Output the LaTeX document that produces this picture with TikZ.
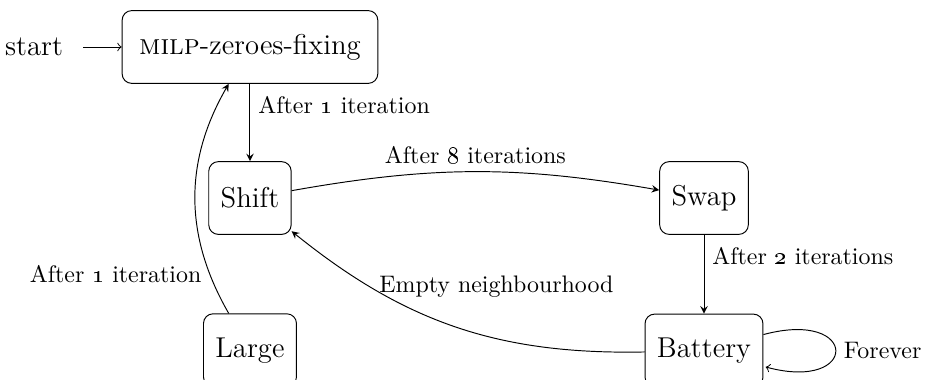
\documentclass[tikz,border=0pt]{standalone}
\usetikzlibrary{arrows}

\begin{document}
\begin{tikzpicture}[
		statebox/.style={draw, rounded corners, minimum height=1.07cm, inner xsep=5pt, font=\large},
		trans/.style={->, >=stealth}
	]
		\useasboundingbox (0,0) rectangle (13.603,-5.588);

		\node[font=\large] (start) at (0.5,-0.691) {start};
		\node[statebox, minimum width=3.76cm] (milp) at (3.676,-0.691) {\textsc{milp}-zeroes-fixing};
		\node[statebox] (shift) at (3.676,-2.912) {Shift};
		\node[statebox] (swap) at (10.353,-2.912) {Swap};
		\node[statebox] (battery) at (10.353,-5.154) {Battery};
		\node[statebox] (large) at (3.676,-5.15) {Large};

		\draw[->, shorten <=5pt] (start.east) -- (milp.west);
		\draw[trans] (milp) -- node[right, pos=0.28] {After \oldstylenums{1} iteration} (shift);
		\draw[trans] (shift) to[bend left=10] node[above] {After \oldstylenums{8} iterations} (swap);
		\draw[trans] (swap) -- node[right, pos=0.27] {After \oldstylenums{2} iterations} (battery);
		\draw[trans] (battery) to[bend left=20] node[right, pos=0.76] {Empty neighbourhood} (shift);
		\draw[trans] (large) to[bend left=30] node[left, pos=0.17] {After \oldstylenums{1} iteration} (milp);
		\draw[->] (battery) edge[loop right] node[right] {Forever} ();
	\end{tikzpicture}
\end{document}
